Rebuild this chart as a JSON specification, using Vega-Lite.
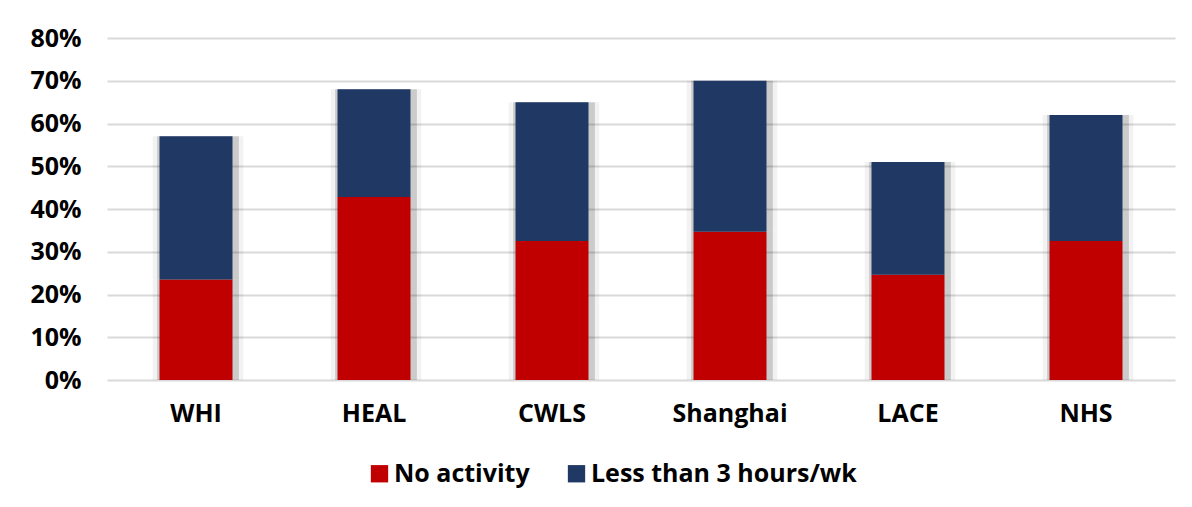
{
  "$schema": "https://vega.github.io/schema/vega-lite/v6.json",
  "width": 1068,
  "height": 342,
  "autosize": {"type": "none"},
  "padding": {"left": 107, "top": 38, "right": 17, "bottom": 127},
  "background": "white",
  "config": {
    "view": {"stroke": null},
    "font": "Open Sans",
    "axis": {"labelFont": "Open Sans", "labelFontWeight": "bold", "labelColor": "#000000", "labelFontSize": 25}
  },
  "data": {
    "values": [
      {"study": "WHI", "type": "No activity", "ord": 1, "value": 0.235},
      {"study": "WHI", "type": "Less than 3 hours/wk", "ord": 2, "value": 0.335},
      {"study": "HEAL", "type": "No activity", "ord": 1, "value": 0.428},
      {"study": "HEAL", "type": "Less than 3 hours/wk", "ord": 2, "value": 0.252},
      {"study": "CWLS", "type": "No activity", "ord": 1, "value": 0.325},
      {"study": "CWLS", "type": "Less than 3 hours/wk", "ord": 2, "value": 0.325},
      {"study": "Shanghai", "type": "No activity", "ord": 1, "value": 0.347},
      {"study": "Shanghai", "type": "Less than 3 hours/wk", "ord": 2, "value": 0.353},
      {"study": "LACE", "type": "No activity", "ord": 1, "value": 0.246},
      {"study": "LACE", "type": "Less than 3 hours/wk", "ord": 2, "value": 0.264},
      {"study": "NHS", "type": "No activity", "ord": 1, "value": 0.325},
      {"study": "NHS", "type": "Less than 3 hours/wk", "ord": 2, "value": 0.295}
    ]
  },
  "encoding": {
    "x": {
      "field": "study", "type": "nominal", "sort": null,
      "scale": {"paddingInner": 0.59, "paddingOuter": 0.295},
      "axis": {"title": null, "labelAngle": 0, "ticks": false, "domain": false, "labelPadding": 21}
    },
    "y": {
      "field": "value", "type": "quantitative", "stack": "zero",
      "scale": {"domain": [0, 0.8]},
      "axis": {"title": null, "format": ".0%", "values": [0,0.1,0.2,0.3,0.4,0.5,0.6,0.7,0.8], "labelOverlap": false, "ticks": false, "domain": false, "labelPadding": 26, "gridColor": "#d9d9d9", "gridWidth": 2}
    },
    "order": {"field": "ord", "type": "quantitative"}
  },
  "layer": [
    {
      "mark": {"type": "bar", "width": {"band": 1.24}, "color": "#000000", "opacity": 0.05, "xOffset": 2}
    },
    {
      "mark": {"type": "bar", "width": {"band": 1.12}, "color": "#000000", "opacity": 0.16, "xOffset": 2}
    },
    {
      "mark": {"type": "bar", "width": {"band": 1}},
      "encoding": {
        "color": {
          "field": "type", "type": "nominal",
          "scale": {"domain": ["No activity", "Less than 3 hours/wk"], "range": ["#c00000", "#203864"]},
          "legend": {
            "title": null, "orient": "none", "direction": "horizontal",
            "legendX": 260, "legendY": 423,
            "symbolType": "square", "symbolSize": 300, "symbolStrokeWidth": 0,
            "labelFont": "Open Sans", "labelFontWeight": "bold", "labelFontSize": 25, "labelColor": "#000000", "labelLimit": 500,
            "columnPadding": 34, "symbolOffset": 0, "labelOffset": 2
          }
        }
      }
    }
  ]
}
